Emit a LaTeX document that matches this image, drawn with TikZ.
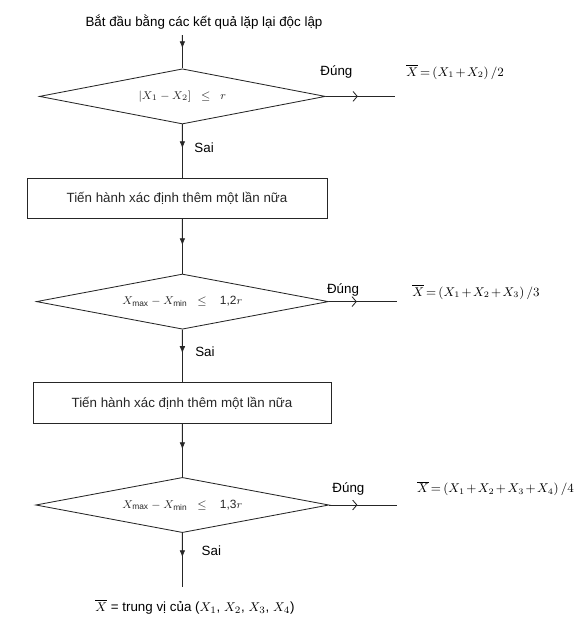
\documentclass[tikz,border=0pt]{standalone}
\usepackage{amsmath,amssymb}
\usepackage{fontspec}
\setmainfont{Liberation Sans}
\usetikzlibrary{arrows.meta,shapes.geometric,calc}

\tikzset{
  flow/.style={black!85, line width=0.6pt},
  flowtip/.style={flow, -{Latex[length=5pt,width=4pt]}},
  yestip/.style={flow, -{Straight Barb[length=3pt,width=7pt]}},
  decision/.style={flow, draw, diamond, aspect=5, inner sep=0pt,
    minimum width=#1, minimum height=1.38cm, font=\fontsize{8.5}{10}\selectfont},
  stepbox/.style={flow, draw, rectangle, inner sep=0pt,
    minimum width=#1, minimum height=1.02cm},
  lbl/.style={font=\fontsize{9.5}{11}\selectfont, inner sep=1pt},
  result/.style={font=\fontsize{8.8}{10}\selectfont, inner sep=0pt, anchor=west,
    execute at begin node={\medmuskip=2mu\relax\thickmuskip=3mu\relax}}
}

\begin{document}
\begin{tikzpicture}[lbl]

\useasboundingbox (0,0) rectangle (14.4,-15.575);

% === Start ===
\node[lbl] (start) at (5.1,-0.55) {Bắt đầu bằng các kết quả lặp lại độc lập};
\coordinate (top) at (4.56,-0.875);

% === Decisions and steps ===
\node[decision=7.15cm] (D1) at (4.56,-2.41) {$|X_1 - X_2]\ \ \le\ \ r$};
\node[stepbox=7.5cm]   (B1) at (4.425,-4.96) {Tiến hành xác định thêm một lần nữa};
\node[decision=7.3cm]  (D2) at (4.56,-7.54) {$X_{\text{max}} - X_{\text{min}}\ \ \le\ \ \ \text{1,2}r$};
\node[stepbox=7.45cm]  (B2) at (4.55,-10.075) {Tiến hành xác định thêm một lần nữa};
\node[decision=7.33cm] (D3) at (4.56,-12.625) {$X_{\text{max}} - X_{\text{min}}\ \ \le\ \ \ \text{1,3}r$};
\coordinate (bot) at (4.56,-14.675);

% Main vertical line (arrow tip half way)
\draw[flow] (top) -- (D1.north);
\draw[flowtip] (top) -- ($(top)!0.4!(D1.north)$);
\foreach \a/\b in {D1.south/B1.north, D2.north/B1.south, D2.south/B2.north,
                   D3.north/B2.south, D3.south/bot} {
  \draw[flow] (\a) -- (\a |- \b);
}
\foreach \a/\b in {D1.south/B1.north, D2.south/B2.north, D3.south/bot}
  \draw[flowtip] (\a) -- ($(\a)!0.45!(\a |- \b)$);
\foreach \a/\b in {D2.north/B1.south, D3.north/B2.south}
  \draw[flowtip] (\a |- \b) -- ($(\a |- \b)!0.48!(\a)$);

% Sai labels
\node[lbl, anchor=west] (sai1) at (4.82,-3.7) {Sai};
\node[lbl, anchor=west] (sai2) at (4.84,-8.8) {Sai};
\node[lbl, anchor=west] (sai3) at (5.0,-13.78) {Sai};

% === Right branches (Đúng) ===
\coordinate (e1) at (9.88,-2.41);
\coordinate (e2) at (9.93,-7.54);
\coordinate (e3) at (9.93,-12.625);
\draw[flow] (D1.east) -- (e1);
\draw[yestip] (D1.east) -- ++(0.8,0);
\draw[flow] (D2.east) -- (e2);
\draw[yestip] (D2.east) -- ++(0.7,0);
\draw[flow] (D3.east) -- (e3);
\draw[yestip] (D3.east) -- ++(0.7,0);

\node[lbl] (yes1) at (8.41,-1.8) {Đúng};
\node[lbl] (yes2) at (8.575,-7.25) {Đúng};
\node[lbl] (yes3) at (8.71,-12.225) {Đúng};

% Results
\node[result] (r1) at (10.15,-1.8) {$\overline{X} = \left(X_1 + X_2\right)/2$};
\node[result] (r2) at (10.3,-7.3) {$\overline{X} = \left(X_1 + X_2 + X_3\right)/3$};
\node[result] (r3) at (10.42,-12.22) {$\overline{X} = \left(X_1 + X_2 + X_3 + X_4\right)/4$};

% Bottom result
\node[lbl] (r4) at (4.875,-15.175) {$\overline{X}$ = trung vị của ($X_1$, $X_2$, $X_3$, $X_4$)};

\end{tikzpicture}
\end{document}
